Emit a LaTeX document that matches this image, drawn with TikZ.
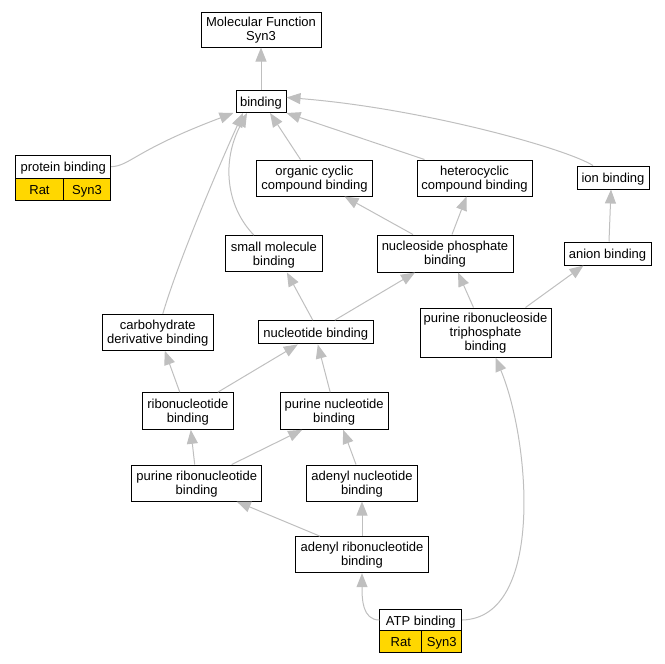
\documentclass[tikz,border=0pt]{standalone}
\usepackage{fontspec}
\setmainfont{Liberation Sans}
\usetikzlibrary{arrows.meta}
\definecolor{jaune}{HTML}{FFD700}
\begin{document}
\begin{tikzpicture}  % ------ Molecular Function Syn3 ---------------
      [x=1pt,y=-1pt,
       boite/.style={draw=black,line width=1pt,fill=white,inner sep=0pt,align=center,
                     font=\fontsize{13}{14}\selectfont,text depth=1pt},
       ligne/.style={boite,text height=11.5pt,text depth=1.5pt},
       case/.style={ligne,fill=jaune},
       lien/.style={draw=gray!50,line width=1pt,-{Triangle[length=14pt,width=11pt]}}]
    \useasboundingbox (0,0) rectangle (665,664);

    \node[boite,minimum width=120pt,minimum height=35pt] (mf) at (261,29.5) {Molecular Function\\Syn3};
    \node[ligne,minimum width=50pt,minimum height=22pt] (bind) at (261,101.5) {binding};

    \node[ligne,minimum width=95pt,minimum height=23.3pt] (pb) at (63.2,166.7) {protein binding};
    \node[case,minimum width=47.6pt,minimum height=21.7pt] (pbrat) at (39.5,189.2) {Rat};
    \node[case,minimum width=47.4pt,minimum height=21.7pt] (pbsyn) at (87,189.2) {Syn3};

    \node[boite,minimum width=115.6pt,minimum height=36pt] (org) at (314.5,178) {organic cyclic\\compound binding};
    \node[boite,minimum width=115pt,minimum height=36pt] (het) at (474.5,178) {heterocyclic\\compound binding};
    \node[ligne,minimum width=72pt,minimum height=23pt] (ion) at (613,177.5) {ion binding};
    \node[boite,minimum width=97.7pt,minimum height=36.3pt] (sm) at (273.9,253.8) {small molecule\\binding};
    \node[boite,minimum width=136pt,minimum height=37pt] (nps) at (445,253.5) {nucleoside phosphate\\binding};
    \node[ligne,minimum width=87pt,minimum height=23pt] (anion) at (607.5,253.5) {anion binding};
    \node[boite,minimum width=111pt,minimum height=36pt] (carb) at (157.8,332.3) {carbohydrate\\derivative binding};
    \node[ligne,minimum width=115pt,minimum height=23.3pt] (nuc) at (315.8,332.3) {nucleotide binding};
    \node[boite,minimum width=131pt,minimum height=49pt] (prtb) at (485.5,332.5) {purine ribonucleoside\\triphosphate\\binding};
    \node[boite,minimum width=91pt,minimum height=36.6pt] (ribo) at (187.8,411) {ribonucleotide\\binding};
    \node[boite,minimum width=108.3pt,minimum height=36.6pt] (pn) at (334.2,411) {purine nucleotide\\binding};
    \node[boite,minimum width=130pt,minimum height=36pt] (pr) at (196.7,483) {purine ribonucleotide\\binding};
    \node[boite,minimum width=110.6pt,minimum height=36pt] (an) at (362,483) {adenyl nucleotide\\binding};
    \node[boite,minimum width=132.6pt,minimum height=36pt] (ar) at (362,554.7) {adenyl ribonucleotide\\binding};

    \node[ligne,minimum width=81.7pt,minimum height=22pt] (atp) at (420.8,620) {ATP binding};
    \node[case,minimum width=41.7pt,minimum height=21.7pt] (atprat) at (400.8,641.8) {Rat};
    \node[case,minimum width=40pt,minimum height=21.7pt] (atpsyn) at (441.7,641.8) {Syn3};

    \draw[lien] (bind.north) -- (mf.south);
    \draw[lien] (pb.east) .. controls (130,166) and (135,150) .. ([xshift=-2pt]bind.south west);
    \draw[lien] ([xshift=-14pt]org.north) -- ([xshift=9pt]bind.south);
    \draw[lien] ([xshift=-50pt]het.north) -- (bind.south east);
    \draw[lien] ([xshift=-20pt]ion.north) .. controls (565,148) and (420,108) .. ([yshift=4pt]bind.east);
    \draw[lien] ([xshift=-20pt]sm.north) .. controls (225,205) and (222,160) .. ([xshift=-14pt]bind.south);
    \draw[lien] ([xshift=5pt]carb.north) .. controls (178,262) and (218,168) .. ([xshift=-18pt]bind.south);
    \draw[lien] ([xshift=-32pt]nps.north) -- ([xshift=30pt]org.south);
    \draw[lien] ([xshift=7pt]nps.north) -- ([xshift=-8pt]het.south);
    \draw[lien] ([xshift=1.5pt]anion.north) -- ([xshift=-2pt]ion.south);
    \draw[lien] ([xshift=-3pt]nuc.north) -- ([xshift=13pt]sm.south);
    \draw[lien] ([xshift=19pt]nuc.north) -- ([xshift=-30pt]nps.south);
    \draw[lien] ([xshift=-12pt]prtb.north) -- ([xshift=13pt]nps.south);
    \draw[lien] ([xshift=40pt]prtb.north) -- ([xshift=-24pt]anion.south);
    \draw[lien] ([xshift=-8pt]ribo.north) -- ([xshift=7pt]carb.south);
    \draw[lien] ([xshift=30pt]ribo.north) -- ([xshift=-18pt]nuc.south);
    \draw[lien] ([xshift=-4pt]pn.north) -- ([xshift=2pt]nuc.south);
    \draw[lien] ([xshift=-2pt]pr.north) -- ([xshift=3pt]ribo.south);
    \draw[lien] ([xshift=35pt]pr.north) -- ([xshift=-32pt]pn.south);
    \draw[lien] ([xshift=-6pt]an.north) -- ([xshift=9pt]pn.south);
    \draw[lien] ([xshift=-42pt]ar.north) -- ([xshift=40pt]pr.south);
    \draw[lien] (ar.north) -- (an.south);
    \draw[lien] (atp.west) .. controls (362,620) and (362,598) .. (ar.south);
    \draw[lien] (atp.east) .. controls (545,618) and (530,440) .. ([xshift=10pt]prtb.south);
\end{tikzpicture}
\end{document}
